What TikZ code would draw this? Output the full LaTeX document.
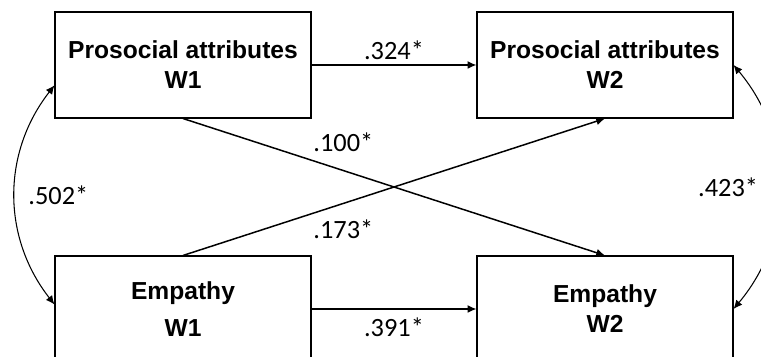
\documentclass[tikz,border=0pt]{standalone}
\usepackage{fontspec}
\newfontfamily\boxfont{Liberation Sans}
\newfontfamily\coeffont{Carlito}
\usetikzlibrary{positioning}
\usetikzlibrary{arrows.meta}
\tikzset{
    varbox/.style = {rectangle, draw=black, line width=0.6pt, minimum width=5.12cm, minimum height=2.12cm, align=center, font=\boxfont\bfseries\fontsize{14}{17}\selectfont},
    coef/.style = {font=\coeffont\fontsize{15}{18}\selectfont},
    edgep/.style = {-{Latex[length=5pt,width=4.5pt]}, line width=0.85pt}, % path
    edgec/.style = {{Latex[length=5pt,width=4.5pt]}-{Latex[length=5pt,width=4.5pt]}, line width=0.6pt}, % correlation
}

\begin{document}
\begin{tikzpicture}
\useasboundingbox (0,0) rectangle (15.22,7.14);
\node[varbox] at (3.66, 5.84) (pa1) {Prosocial attributes\\W1};
\node[varbox] at (12.10, 5.84) (pa2) {Prosocial attributes\\W2};
\node[varbox] at (3.66, 0.96) (em1) {Empathy\\[0.14cm]W1};
\node[varbox] at (12.10, 0.96) (em2) {Empathy\\W2};
%
\path (pa1) edge[edgep] node[coef, above=-0.02cm] {.324*} (pa2);
\path (em1) edge[edgep] node[coef, below=0.04cm] {.391*} (em2);
\path (pa1.south) edge[edgep] node[coef, pos=0.38, above=0.24cm] {.100*} (em2.north);
\path (em1.north) edge[edgep] node[coef, pos=0.38, below=0.2cm] {.173*} (pa2.south);

\path (pa1.189) edge[edgec, bend right=38] node[coef, right=0.14cm] {.502*} (em1.178);
\path (pa2.east) edge[edgec, bend left=40] node[coef, left=0.3cm] {.423*} (em2.east);
\end{tikzpicture}
\end{document}
